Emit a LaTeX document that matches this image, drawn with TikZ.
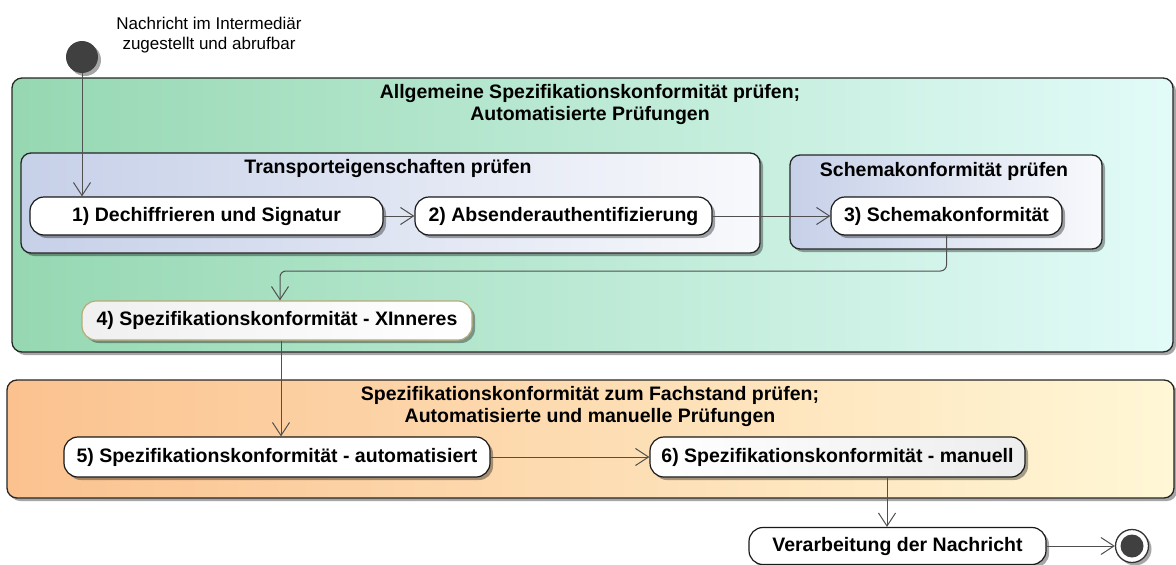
\documentclass[tikz,border=0pt]{standalone}
\usepackage{fontspec}
\setmainfont{Liberation Sans}
\usetikzlibrary{arrows.meta,shadows,calc}
\definecolor{greenL}{RGB}{150,216,178}
\definecolor{greenR}{RGB}{226,251,248}
\definecolor{blueL}{RGB}{198,208,232}
\definecolor{blueR}{RGB}{248,249,252}
\definecolor{orangeL}{RGB}{251,194,143}
\definecolor{orangeR}{RGB}{255,247,214}
\definecolor{conn}{RGB}{80,80,80}
\definecolor{dot}{RGB}{64,64,64}
\definecolor{tan}{RGB}{184,170,120}
\tikzset{
  shad/.style={drop shadow={shadow xshift=3pt,shadow yshift=-3pt,fill=black,opacity=0.35}},
  grp/.style={draw=black!85,line width=1.3pt,rounded corners=10pt,inner sep=0pt,shad},
  act/.style={draw=black!90,line width=1.2pt,rounded corners=14pt,fill=white,inner sep=0pt,
    font=\fontsize{19.5}{22}\selectfont\bfseries,shad},
  ttl/.style={font=\fontsize{19.5}{22}\selectfont\bfseries,align=center,inner sep=0pt},
  flow/.style={draw=conn,line width=1pt,-{Straight Barb[length=13pt,width=17pt,line width=1pt]}},
}
\begin{document}
\begin{tikzpicture}[x=1pt,y=-1pt]
\useasboundingbox (0,0) rectangle (1176,565);
% groups
\node[grp,left color=greenL,right color=greenR,minimum width=1161pt,minimum height=274pt] (gA) at (592.5,215) {};
\node[ttl] (tA) at (590,104) {Allgemeine Spezifikationskonformität prüfen;\\Automatisierte Prüfungen};
\node[grp,left color=blueL,right color=blueR,minimum width=739pt,minimum height=100pt] (gT) at (390.5,203) {};
\node[ttl] (tT) at (388,168) {Transporteigenschaften prüfen};
\node[grp,left color=blueL,right color=blueR,minimum width=312pt,minimum height=94pt] (gS) at (946,202) {};
\node[ttl] (tS) at (944,171) {Schemakonformität prüfen};
\node[grp,left color=orangeL,right color=orangeR,minimum width=1167pt,minimum height=118pt] (gB) at (590.5,439) {};
\node[ttl] (tB) at (590,406) {Spezifikationskonformität zum Fachstand prüfen;\\Automatisierte und manuelle Prüfungen};
% start
\node[circle,fill=dot,minimum size=32pt,inner sep=0pt,shad] (start) at (82,57) {};
\node[font=\fontsize{17}{20}\selectfont,align=center,inner sep=0pt] (lstart) at (209,35) {Nachricht im Intermediär\\zugestellt und abrufbar};
% actions
\node[act,minimum width=353pt,minimum height=38pt] (n1) at (206.5,216) {1) Dechiffrieren und Signatur};
\node[act,minimum width=297pt,minimum height=38pt] (n2) at (563.5,216) {2) Absenderauthentifizierung};
\node[act,minimum width=231pt,minimum height=38pt] (n3) at (946.5,216) {3) Schemakonformität};
\node[act,draw=tan,left color=black!6,right color=white,minimum width=390pt,minimum height=39pt] (n4) at (277,320.5) {4) Spezifikationskonformität - XInneres};
\node[act,minimum width=426pt,minimum height=40pt] (n5) at (277,457) {5) Spezifikationskonformität - automatisiert};
\node[act,left color=white,right color=black!7,minimum width=375pt,minimum height=40pt] (n6) at (837.5,457) {6) Spezifikationskonformität - manuell};
\node[act,minimum width=297pt,minimum height=37pt] (n7) at (897.5,546) {Verarbeitung der Nachricht};
% end
\node[circle,draw=black!80,line width=1.3pt,fill=white,minimum size=33pt,inner sep=0pt,shad] (end) at (1132,546) {};
\node[circle,fill=dot,minimum size=23pt,inner sep=0pt] (endin) at (end) {};
% connectors
\coordinate (c34) at (280,271);
\coordinate (c45) at (281,0);
\coordinate (c67) at (887,0);
\draw[flow] (start.south) -- (start.south |- n1.north);
\draw[flow] (n1.east) -- (n2.west);
\draw[flow] (n2.east) -- (n3.west);
\draw[flow,rounded corners=6pt] (n3.south) |- (c34) -- (c34 |- n4.north);
\draw[flow] (c45 |- n4.south) -- (c45 |- n5.north);
\draw[flow] (n5.east) -- (n6.west);
\draw[flow] (c67 |- n6.south) -- (c67 |- n7.north);
\draw[flow] (n7.east) -- (end.west);
\end{tikzpicture}
\end{document}
